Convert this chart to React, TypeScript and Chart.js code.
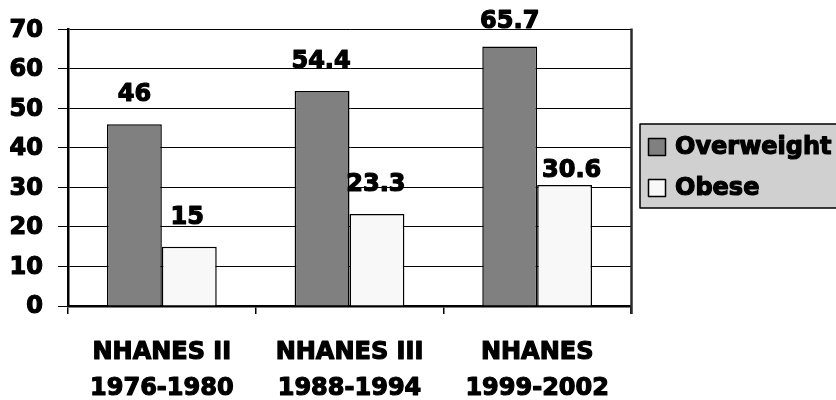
import React, { useEffect, useRef } from "react";
import { Chart, registerables } from "chart.js";

Chart.register(...registerables);

const categories: string[][] = [
  ["NHANES II", "1976-1980"],
  ["NHANES III", "1988-1994"],
  ["NHANES", "1999-2002"],
];
const seriesNames = ["Overweight", "Obese"];
const overweight = [46, 54.4, 65.7];
const obese = [15, 23.3, 30.6];
const yTicks = [0, 10, 20, 30, 40, 50, 60, 70];

const seriesColors = ["#808080", "#f8f8f8"];
// label placement tweaks (pixels) per series, per category: [dx, baseline offset from bar top]
const labelOffsets = [
  [[0, -23], [-1, -23], [0, -18]],
  [[-2, -22.5], [-1, -23], [7, -8]],
];

const FONT = "'DejaVu Sans', sans-serif";
const TEXT_FONT = `bold 24px ${FONT}`;

function heavyText(ctx: CanvasRenderingContext2D, text: string, x: number, y: number) {
  ctx.lineWidth = 1.2;
  ctx.lineJoin = "round";
  ctx.strokeStyle = "#000";
  ctx.strokeText(text, x, y);
  ctx.fillText(text, x, y);
}

const decorPlugin = {
  id: "decor",
  afterDatasetsDraw(chart: any) {
    const ctx = chart.ctx;
    ctx.save();
    ctx.font = TEXT_FONT;
    ctx.fillStyle = "#000";
    ctx.textAlign = "center";
    ctx.textBaseline = "alphabetic";
    chart.data.datasets.forEach((ds: any, di: number) => {
      const meta = chart.getDatasetMeta(di);
      meta.data.forEach((bar: any, i: number) => {
        const off = labelOffsets[di][i];
        heavyText(ctx, String(ds.data[i]), bar.x + off[0], bar.y + off[1]);
      });
    });
    ctx.restore();
  },
  afterDraw(chart: any) {
    const ctx = chart.ctx;
    const a = chart.chartArea;
    const xs = chart.scales.x;
    const ys = chart.scales.y;
    ctx.save();
    // right border of plot
    ctx.strokeStyle = "#2a2a2a";
    ctx.lineWidth = 2.5;
    ctx.beginPath();
    ctx.moveTo(a.right + 0.5, a.top - 1);
    ctx.lineTo(a.right + 0.5, a.bottom + 8);
    ctx.stroke();

    // axis labels
    ctx.font = TEXT_FONT;
    ctx.fillStyle = "#000";
    ctx.textBaseline = "middle";
    ctx.textAlign = "right";
    yTicks.forEach((v) => {
      heavyText(ctx, String(v), a.left - 25, ys.getPixelForValue(v) + 1);
    });
    ctx.textAlign = "center";
    categories.forEach((lines, i) => {
      const x = xs.getPixelForValue(i);
      lines.forEach((line, li) => {
        heavyText(ctx, line, x, xs.top + 47 + li * 36);
      });
    });

    // legend
    const lx = 640, ly = 124, lw = 220, lh = 84;
    ctx.fillStyle = "#d0d0d0";
    ctx.fillRect(lx, ly, lw, lh);
    ctx.strokeStyle = "#000";
    ctx.lineWidth = 1.5;
    ctx.strokeRect(lx, ly, lw, lh);
    const rows = [147, 188];
    ctx.font = TEXT_FONT;
    ctx.textAlign = "left";
    ctx.textBaseline = "middle";
    chart.data.datasets.forEach((ds: any, di: number) => {
      const cy = rows[di];
      ctx.fillStyle = ds.backgroundColor;
      ctx.fillRect(648.5, cy - 8.5, 17, 17);
      ctx.strokeStyle = "#000";
      ctx.lineWidth = 1.5;
      ctx.strokeRect(648.5, cy - 8.5, 17, 17);
      ctx.fillStyle = "#000";
      heavyText(ctx, ds.label, 675, cy + 1);
    });
    ctx.restore();
  },
};

export default function App() {
  const ref = useRef<HTMLCanvasElement>(null);
  useEffect(() => {
    document.body.style.margin = "0";
    const chart = new Chart(ref.current!, {
      type: "bar",
      data: {
        labels: categories,
        datasets: [
          {
            label: seriesNames[0],
            data: overweight,
            backgroundColor: seriesColors[0],
            borderColor: "#000",
            borderWidth: 1.5,
          },
          {
            label: seriesNames[1],
            data: obese,
            backgroundColor: seriesColors[1],
            borderColor: "#000",
            borderWidth: 1.5,
          },
        ],
      },
      options: {
        responsive: false,
        animation: false,
        layout: { padding: { top: 28, right: 205, left: 0, bottom: 0 } },
        datasets: { bar: { categoryPercentage: 0.585, barPercentage: 1.0 } },
        plugins: { legend: { display: false }, tooltip: { enabled: false } },
        scales: {
          x: {
            offset: true,
            grid: {
              offset: true,
              drawOnChartArea: false,
              drawTicks: true,
              tickLength: 8,
              color: "#000",
              lineWidth: 1.5,
            },
            border: { display: true, color: "#000", width: 2.5 },
            ticks: {
              color: "rgba(0,0,0,0)",
              padding: 20,
              maxRotation: 0,
              font: { family: FONT, size: 24, weight: "bold", lineHeight: 1.5 },
            },
            afterFit(scale: any) {
              scale.height = 94;
            },
          },
          y: {
            min: 0,
            max: 70,
            afterBuildTicks(scale: any) {
              scale.ticks = yTicks.map((v) => ({ value: v }));
            },
            grid: {
              color: "#000",
              lineWidth: 1,
              tickLength: 10,
              drawTicks: true,
            },
            border: { display: true, color: "#000", width: 2.5 },
            ticks: {
              color: "rgba(0,0,0,0)",
              padding: 15,
              font: { family: FONT, size: 24, weight: "bold" },
            },
            afterFit(scale: any) {
              scale.width = 68;
            },
          },
        },
      },
      plugins: [decorPlugin],
    } as any);
    return () => chart.destroy();
  }, []);
  return (
    <div style={{ width: 836, height: 400, background: "#fff" }}>
      <canvas ref={ref} width={836} height={400} />
    </div>
  );
}
